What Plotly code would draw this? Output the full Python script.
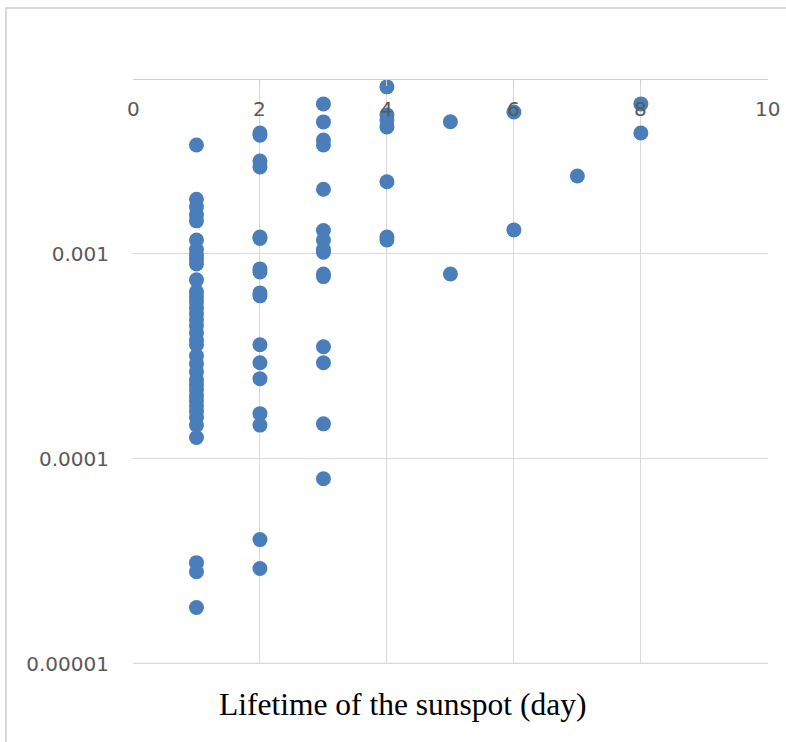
import plotly.graph_objects as go

# Lifetime (days) of each sunspot and its measured value
day1 = [0.00340, 0.00185, 0.00170, 0.00155, 0.00145, 0.00117, 0.00105, 0.00099,
        0.000946, 0.000894, 0.000747, 0.000653, 0.000617, 0.000583, 0.000545,
        0.000510, 0.000477, 0.000446, 0.000412, 0.000380, 0.000360, 0.000318,
        0.000291, 0.000266, 0.000243, 0.000230, 0.000217, 0.000203, 0.000192,
        0.000181, 0.000170, 0.000159, 0.000146, 0.000127, 0.0000311, 0.0000281,
        0.0000188]
day2 = [0.00389, 0.00380, 0.00284, 0.00266, 0.00121, 0.00119, 0.000845, 0.000817,
        0.000645, 0.000624, 0.000360, 0.000294, 0.000246, 0.000166, 0.000146,
        0.0000403, 0.0000291]
day3 = [0.00540, 0.00441, 0.00360, 0.00340, 0.00207, 0.00130, 0.00117, 0.00105,
        0.00102, 0.000798, 0.000775, 0.000352, 0.000294, 0.000148, 0.0000798]
day4 = [0.00654, 0.00477, 0.00450, 0.00417, 0.00225, 0.00121, 0.00117]
day5 = [0.00442, 0.000798]
day6 = [0.00493, 0.00131]
day7 = [0.00240]
day8 = [0.00540, 0.00389]

groups = [(1, day1), (2, day2), (3, day3), (4, day4),
          (5, day5), (6, day6), (7, day7), (8, day8)]
lifetime = [d for d, vals in groups for _ in vals]
values = [v for _, vals in groups for v in vals]

x_ticks = [0, 2, 4, 6, 8, 10]
y_ticks = [0.00001, 0.0001, 0.001]
y_tick_text = ["0.00001", "0.0001", "0.001"]

fig = go.Figure(go.Scatter(
    x=lifetime, y=values, mode="markers",
    marker=dict(size=15, color="#4a7ebb", line=dict(width=0)),
    hoverinfo="x+y",
))

tick_font = dict(family="DejaVu Sans", size=20, color="#595959")
grid_color = "#d9d9d9"

# The horizontal axis sits along the top; its labels hang just below the line
x_label_annotations = [
    dict(text=str(t), x=t, xref="x", y=0.951, yref="paper",
         xanchor="center", yanchor="middle", showarrow=False, font=tick_font)
    for t in x_ticks
]

fig.update_layout(
    width=786, height=742,
    margin=dict(l=133, r=18, t=80, b=78),
    paper_bgcolor="white", plot_bgcolor="white",
    showlegend=False,
    xaxis=dict(
        range=[0, 10.003], side="top", tickvals=x_ticks,
        showline=True, linecolor="#cfcfcf", linewidth=1,
        showgrid=True, gridcolor=grid_color, gridwidth=1,
        zeroline=False,
        ticks="inside", ticklen=6, tickcolor="#cfcfcf",
        showticklabels=False,
    ),
    yaxis=dict(
        type="log", range=[-5.002, -2.151],
        tickvals=y_ticks, ticktext=y_tick_text,
        showline=False, showgrid=True, gridcolor=grid_color, gridwidth=1,
        zeroline=False,
        ticks="outside", ticklen=19, tickcolor="rgba(0,0,0,0)",
        tickfont=tick_font,
    ),
    annotations=x_label_annotations + [dict(
        text="Lifetime of the sunspot (day)",
        xref="paper", yref="paper", x=0.425, y=-0.070,
        xanchor="center", yanchor="middle", showarrow=False,
        font=dict(family="Liberation Serif", size=31.5, color="black"),
    )],
    shapes=[
        # outer chart-area border
        dict(type="rect", xref="paper", yref="paper",
             x0=-0.2, x1=1.2, y0=-0.3, y1=1.1233,
             line=dict(color=grid_color, width=2), layer="below"),
        # gridline at the lowest decade, on the plot's bottom edge
        dict(type="line", xref="paper", yref="y",
             x0=0, x1=1, y0=y_ticks[0], y1=y_ticks[0],
             line=dict(color=grid_color, width=1.5), layer="below"),
    ],
)

fig.write_html("out.html")
